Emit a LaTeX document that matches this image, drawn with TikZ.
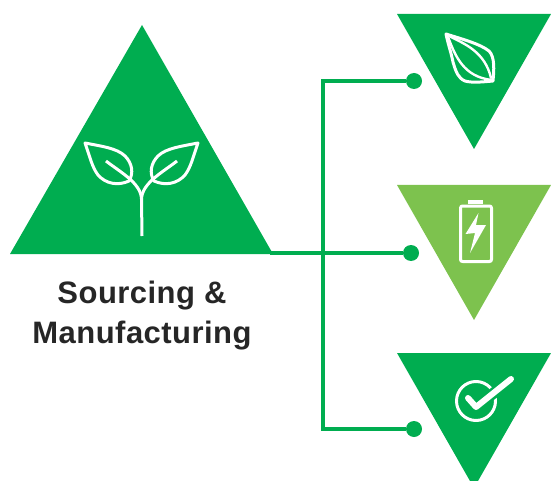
\documentclass[tikz,border=0pt]{standalone}
\usepackage{fontspec}
\setmainfont{Liberation Sans}[LetterSpace=1.5]
\definecolor{leafgreen}{HTML}{00AD50}
\definecolor{lightgreen}{HTML}{7DC24E}
\tikzset{
	link/.style={draw=leafgreen, line width=3.6pt},
	dot/.style={circle, fill=leafgreen, minimum size=16pt, inner sep=0pt},
	icon/.style={draw=white, line width=3pt, line join=round, line cap=round},
	title/.style={font=\fontsize{31}{31}\selectfont\bfseries, text=black!85}
}
\begin{document}
\begin{tikzpicture}[x=1pt, y=-1pt]
		\useasboundingbox (0, 0) rectangle (551, 481);
		\fill [leafgreen] (142, 25) -- (273, 254) -- (10, 254) -- cycle;
		\fill [leafgreen] (397, 14) -- (551, 14) -- (474, 149) -- cycle;
		\fill [lightgreen] (397, 185) -- (551, 185) -- (474, 320) -- cycle;
		\fill [leafgreen] (397, 353) -- (551, 353) -- (474, 488) -- cycle;
		\coordinate (Base) at (270, 253);
		\coordinate (Mid) at (323, 253);
		\coordinate (Up) at (323, 81);
		\coordinate (Down) at (323, 429);
		\node [dot] (Top) at (414, 81) {};
		\node [dot] (Centre) at (411, 253) {};
		\node [dot] (Bottom) at (414, 429) {};
		\draw [link] (Base) -- (Centre);
		\draw [link] (Top) -- (Up) -- (Down) -- (Bottom);
		\node [title] (T1) at (142, 296) {Sourcing \&};
		\node [title] (T2) at (142, 336) {Manufacturing};
		% sprout
		\draw [icon] (85, 143) .. controls (100, 146) and (117, 148) .. (125, 156)
			.. controls (132, 163) and (134, 173) .. (129, 181)
			.. controls (118, 186) and (106, 184) .. (98, 175)
			.. controls (92, 167) and (90, 157) .. (85, 143) -- cycle;
		\draw [icon] (198, 143) .. controls (183, 146) and (166, 148) .. (158, 156)
			.. controls (151, 163) and (149, 173) .. (154, 181)
			.. controls (165, 186) and (177, 184) .. (185, 175)
			.. controls (191, 167) and (193, 157) .. (198, 143) -- cycle;
		\draw [icon, line cap=butt] (106, 161) .. controls (120, 172) and (141, 183) .. (141.5, 199) -- (142, 236);
		\draw [icon, line cap=butt] (177, 161) .. controls (163, 172) and (142, 183) .. (141.5, 199);
		% seed
		\draw [icon] (446, 34) .. controls (465, 40) and (480, 44) .. (489, 51)
			.. controls (495, 57) and (494, 70) .. (493, 81)
			.. controls (482, 82) and (472, 83) .. (465, 81)
			.. controls (458, 78) and (456, 72) .. (453, 62)
			.. controls (451, 52) and (448, 44) .. (446, 34) -- cycle;
		\draw [icon, line width=2.4pt] (448, 37) .. controls (455, 55) and (463, 77) .. (492, 80);
		\draw [icon, line width=2.4pt] (449, 36) .. controls (465, 44) and (485, 52) .. (491, 78);
		% battery
		\draw [icon, rounded corners=2pt] (460.5, 206) rectangle (491.5, 261.5);
		\fill [white] (468, 200) rectangle (483, 204);
		\fill [white] (478.5, 213) -- (465.5, 234) -- (475, 233) -- (470, 253) -- (486, 225) -- (476, 225) -- cycle;
		% check
		\draw [icon] (476, 401) circle (19.5);
		\draw [leafgreen, line width=11pt, line cap=round] (480, 404) -- (511, 379);
		\draw [icon, line width=6pt] (468, 398) -- (476, 407) -- (511, 379);
	\end{tikzpicture}
\end{document}
